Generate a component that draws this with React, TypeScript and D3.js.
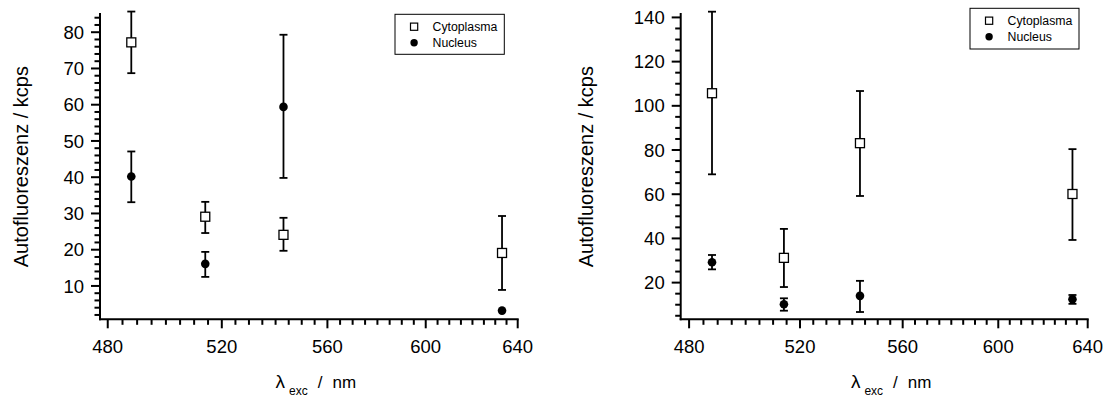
import React from "react";
import * as d3 from "d3";

const wavelengths = [488, 514, 543, 633];

// Left panel
const leftCyto = [77.2, 29.1, 24.1, 19.1];
const leftCytoLow = [68.7, 24.6, 19.7, 8.9];
const leftCytoHigh = [85.7, 33.2, 28.8, 29.3];
const leftNuc = [40.2, 16.1, 59.4, 3.2];
const leftNucLow = [33.1, 12.5, 39.8, 3.2];
const leftNucHigh = [47.1, 19.4, 79.3, 3.2];

// Right panel
const rightCyto = [105.7, 31.2, 83.1, 60.1];
const rightCytoLow = [69, 18, 59.2, 39.3];
const rightCytoHigh = [142.6, 44.3, 106.7, 80.4];
const rightNuc = [29.2, 10.2, 14, 12.5];
const rightNucLow = [26, 7.3, 6.7, 10.4];
const rightNucHigh = [32.5, 12.9, 20.8, 14.4];

const xMajorTicks = [480, 520, 560, 600, 640];
const leftYMajor = [10, 20, 30, 40, 50, 60, 70, 80];
const rightYMajor = [20, 40, 60, 80, 100, 120, 140];

const seriesNames = ["Cytoplasma", "Nucleus"];
const yLabel = "Autofluoreszenz / kcps";

const FONT = "Arial, 'Liberation Sans', Helvetica, sans-serif";

type PanelProps = {
  x0: number; x1: number; y0: number; y1: number;
  xDomain: [number, number]; yDomain: [number, number];
  yMajor: number[]; yMinorStep: number;
  cyto: number[]; cytoLow: number[]; cytoHigh: number[];
  nuc: number[]; nucLow: number[]; nucHigh: number[];
  legend: { x: number; y: number; w: number; h: number };
  yLabelX: number;
};

function Panel(p: PanelProps) {
  const x = d3.scaleLog().domain(p.xDomain).range([p.x0, p.x1]);
  const y = d3.scaleLinear().domain(p.yDomain).range([p.y1, p.y0]);
  const xMinor = d3.range(480, 641, 5).filter((v) => !xMajorTicks.includes(v));
  const yMinor = d3
    .range(p.yMinorStep, p.yDomain[1] + 0.001, p.yMinorStep)
    .filter((v) => v >= p.yDomain[0] && !p.yMajor.some((m) => Math.abs(m - v) < 1e-6));
  const cap = 4;
  const errBars = (lo: number[], hi: number[], key: string) =>
    wavelengths.map((w, i) => {
      if (Math.abs(hi[i] - lo[i]) < 0.01) return null;
      const cx = x(w);
      const top = Math.max(y(hi[i]), p.y0 - 2);
      const bot = y(lo[i]);
      return (
        <g key={key + i} stroke="#000" strokeWidth={1.8}>
          <line x1={cx} x2={cx} y1={top} y2={bot} />
          <line x1={cx - cap} x2={cx + cap} y1={top} y2={top} />
          <line x1={cx - cap} x2={cx + cap} y1={bot} y2={bot} />
        </g>
      );
    });
  const midX = (p.x0 + p.x1) / 2;
  const midY = (p.y0 + p.y1) / 2;
  const lg = p.legend;
  return (
    <g fontFamily={FONT}>
      {/* axes */}
      <line x1={p.x0} x2={p.x0} y1={p.y0} y2={p.y1 + 1} stroke="#000" strokeWidth={2} />
      <line x1={p.x0 - 1} x2={p.x1 + 1} y1={p.y1} y2={p.y1} stroke="#000" strokeWidth={2} />
      {xMajorTicks.map((t) => (
        <g key={"xt" + t}>
          <line x1={x(t)} x2={x(t)} y1={p.y1} y2={p.y1 + 9} stroke="#000" strokeWidth={2} />
          <text x={x(t)} y={p.y1 + 34} fontSize={18.5} textAnchor="middle" fill="#000">{t}</text>
        </g>
      ))}
      {xMinor.map((t) => (
        <line key={"xm" + t} x1={x(t)} x2={x(t)} y1={p.y1} y2={p.y1 + 5.5} stroke="#000" strokeWidth={2} />
      ))}
      {p.yMajor.map((t) => (
        <g key={"yt" + t}>
          <line x1={p.x0 - 9} x2={p.x0} y1={y(t)} y2={y(t)} stroke="#000" strokeWidth={2} />
          <text x={p.x0 - 16} y={y(t) + 6.6} fontSize={18.5} textAnchor="end" fill="#000">{t}</text>
        </g>
      ))}
      {yMinor.map((t) => (
        <line key={"ym" + t} x1={p.x0 - 5.5} x2={p.x0} y1={y(t)} y2={y(t)} stroke="#000" strokeWidth={2} />
      ))}
      {/* axis labels */}
      <text
        transform={`translate(${p.yLabelX},${midY + 0.5}) rotate(-90)`}
        fontSize={20}
        textAnchor="middle"
        fill="#000"
      >
        {yLabel}
      </text>
      <text x={midX + 7} y={388.3} fontSize={17} textAnchor="middle" fill="#000">
        <tspan fontSize={19}>λ</tspan>
        <tspan fontSize={12} dx={4} dy={7}>exc</tspan>
        <tspan dx={10} dy={-7}>/</tspan>
        <tspan dx={10}>nm</tspan>
      </text>
      {/* error bars */}
      {errBars(p.cytoLow, p.cytoHigh, "ce")}
      {errBars(p.nucLow, p.nucHigh, "ne")}
      {/* markers */}
      {wavelengths.map((w, i) => (
        <rect key={"c" + i} x={x(w) - 4.5} y={y(p.cyto[i]) - 4.5} width={9} height={9} fill="#fff" stroke="#000" strokeWidth={1.3} />
      ))}
      {wavelengths.map((w, i) => (
        <circle key={"n" + i} cx={x(w)} cy={y(p.nuc[i])} r={4.3} fill="#000" />
      ))}
      {/* legend */}
      <g>
        <rect x={lg.x} y={lg.y} width={lg.w} height={lg.h} fill="#fff" stroke="#000" strokeWidth={1} />
        <rect x={lg.x + 15.5} y={lg.y + 12.4 - 3.6} width={7.2} height={7.2} fill="#fff" stroke="#000" strokeWidth={1.2} />
        <text x={lg.x + 37.5} y={lg.y + 12.4 + 4.2} fontSize={12.3} fill="#000">{seriesNames[0]}</text>
        <circle cx={lg.x + 19.1} cy={lg.y + 28.5} r={3.7} fill="#000" />
        <text x={lg.x + 37.5} y={lg.y + 28.5 + 4.2} fontSize={12.3} fill="#000">{seriesNames[1]}</text>
      </g>
    </g>
  );
}

export default function App() {
  return (
    <svg
      width={1109}
      height={398}
      viewBox="0 0 1109 398"
      style={{ position: "absolute", left: 0, top: 0, background: "#fff" }}
    >
      <rect x={0} y={0} width={1109} height={398} fill="#fff" />
      <Panel
        x0={100} x1={517.7} y0={13} y1={319.3}
        xDomain={[477.4, 640]} yDomain={[0.8, 85.3]}
        yMajor={leftYMajor} yMinorStep={2}
        cyto={leftCyto} cytoLow={leftCytoLow} cytoHigh={leftCytoHigh}
        nuc={leftNuc} nucLow={leftNucLow} nucHigh={leftNucHigh}
        legend={{ x: 395, y: 14.3, w: 109.3, h: 40 }}
        yLabelX={27.7}
      />
      <Panel
        x0={680.7} x1={1087.7} y0={13} y1={319.3}
        xDomain={[477.1, 640]} yDomain={[3.4, 142]}
        yMajor={rightYMajor} yMinorStep={5}
        cyto={rightCyto} cytoLow={rightCytoLow} cytoHigh={rightCytoHigh}
        nuc={rightNuc} nucLow={rightNucLow} nucHigh={rightNucHigh}
        legend={{ x: 970, y: 8.3, w: 109, h: 40.7 }}
        yLabelX={593}
      />
    </svg>
  );
}
